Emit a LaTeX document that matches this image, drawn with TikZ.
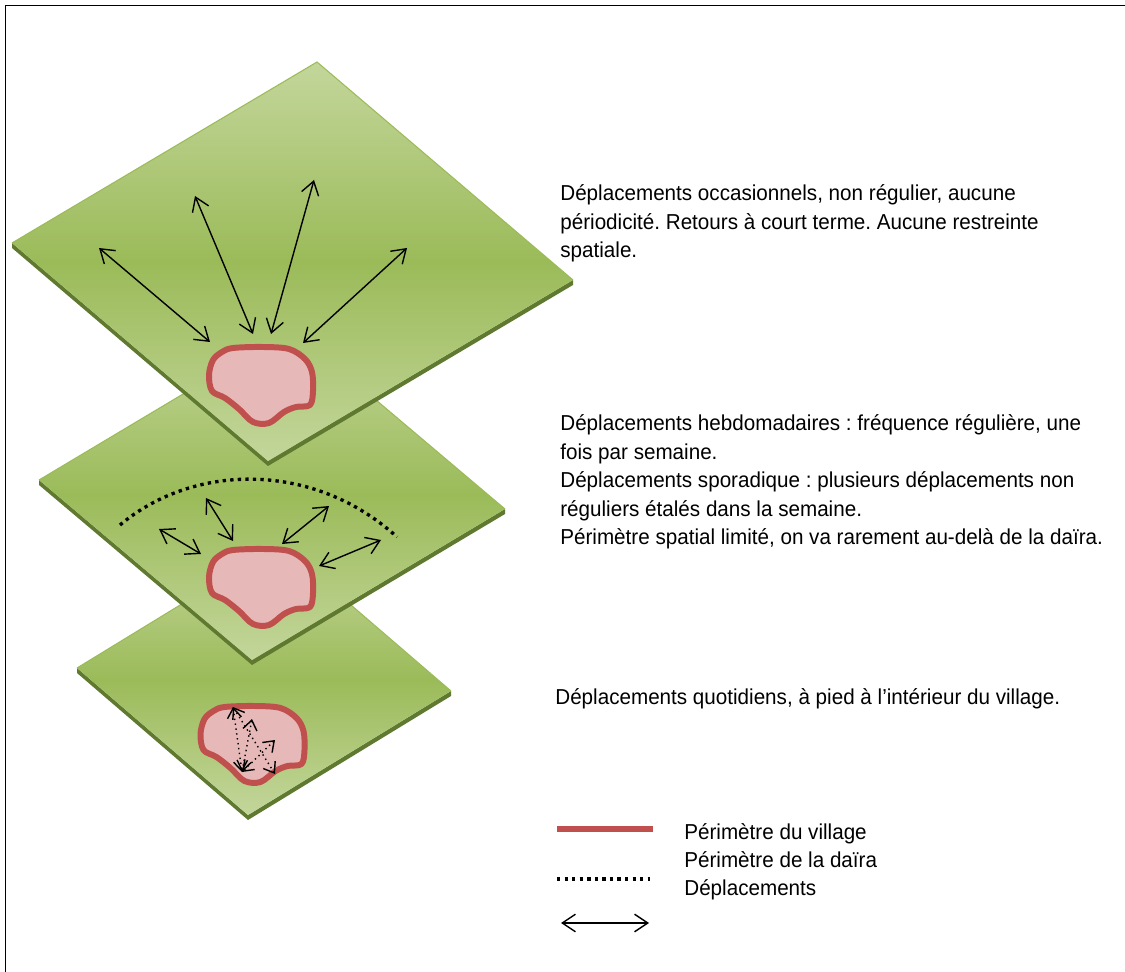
\documentclass[tikz,border=0pt]{standalone}
\usepackage{fontspec}
\setmainfont{Liberation Sans}[FakeStretch=0.955]
\usetikzlibrary{arrows.meta,calc}
\definecolor{Gc}{HTML}{9BBB59}
\definecolor{Gl}{HTML}{C3D69B}
\definecolor{Gd}{HTML}{5F7A30}
\definecolor{Vc}{HTML}{C0504D}
\definecolor{Vf}{HTML}{E6B9B8}
\tikzset{
  village/.style={draw=Vc, line width=3.4pt, fill=Vf, line join=round},
  daira/.style={line width=1.9pt, dash pattern=on 1.9pt off 2.4pt},
  depl/.style={{Straight Barb[length=7.5pt,width=10pt]}-{Straight Barb[length=7.5pt,width=10pt]}, line width=0.8pt},
  deplq/.style={{Straight Barb[length=5.5pt,width=8pt]}-{Straight Barb[length=5.5pt,width=8pt]}, dotted, line width=0.8pt},
  txt/.style={anchor=base west, inner sep=0pt, align=left, font=\fontsize{12.3}{16.2}\selectfont},
}
\newcommand{\dalle}[4]{% name, left, bottom, right (pixels)
  \coordinate (#1L) at #2; \coordinate (#1B) at #3; \coordinate (#1R) at #4;
  \coordinate (#1T) at ($(#1L)+(#1R)-(#1B)$);
  \fill[Gd] (#1L) -- (#1B) -- (#1R) -- ++(0,5) -- ($(#1B)+(0,5)$) -- ($(#1L)+(0,5)$) -- cycle;
  \shade[top color=Gl, bottom color=Gl, middle color=Gc] (#1L) -- (#1T) -- (#1R) -- (#1B) -- cycle;
  \draw[Gc, line width=0.6pt] (#1L) -- (#1T) -- (#1R);}
\newcommand{\village}[1]{% centre
  \draw[village, shift={#1}] plot[smooth cycle, tension=0.55] coordinates {
    (-28,-37) (2,-38) (28,-36) (44,-26) (51,-13) (52,6) (49,20) (35,22) (23,27)
    (8,38) (-8,37) (-22,24) (-36,13) (-49,6) (-52,-10) (-48,-25) (-39,-33)};}
\frenchspacing

\begin{document}
\begin{tikzpicture}[x=0.02cm, y=-0.02cm]
  \useasboundingbox (0,0) rectangle (1125,972);
  \draw[line width=1.1pt] (5.5,1000) -- (5.5,5.5) -- (1140,5.5);
  % quotidien
  \dalle{q}{(77,668)}{(248,815)}{(451,691)}
  \village{(252.5,744)}
  \coordinate (q1) at (233,707); \coordinate (q2) at (252,719); \coordinate (q3) at (275,740);
  \coordinate (q4) at (242,772); \coordinate (q5) at (275,774);
  \draw[deplq] (q1) -- (q5);
  \draw[deplq] (q1) -- (q4);
  \draw[deplq] (q2) -- (q4);
  \draw[deplq] (q3) -- (q4);
  % hebdomadaire
  \dalle{h}{(39,480)}{(252,660)}{(505,509)}
  \village{(261,587)}
  \coordinate (d1) at (120,525); \coordinate (d2) at (397,537);
  \draw[daira] (d1) .. controls (195,462) and (315,462) .. (d2);
  \coordinate (h1a) at (159,529); \coordinate (h1b) at (201,554);
  \coordinate (h2a) at (206,498); \coordinate (h2b) at (233,541);
  \coordinate (h3a) at (329,506); \coordinate (h3b) at (282,544);
  \coordinate (h4a) at (381,540); \coordinate (h4b) at (319,566);
  \foreach \i in {1,...,4} \draw[depl] (h\i a) -- (h\i b);
  % occasionnel
  \dalle{o}{(12,243)}{(268,461)}{(573,280)}
  \village{(261,385)}
  \coordinate (o1a) at (99,248); \coordinate (o1b) at (210,342);
  \coordinate (o2a) at (195,196); \coordinate (o2b) at (253,334);
  \coordinate (o3a) at (314,180); \coordinate (o3b) at (271,334);
  \coordinate (o4a) at (407,248); \coordinate (o4b) at (303,343);
  \foreach \i in {1,...,4} \draw[depl] (o\i a) -- (o\i b);
  % textes
  \node[txt] (t1) at (560,257.5) {Déplacements occasionnels, non régulier, aucune\\périodicité. Retours à court terme. Aucune restreinte\\spatiale.};
  \node[txt] (t2) at (560,544.5) {Déplacements hebdomadaires : fréquence régulière, une\\fois par semaine.\\Déplacements sporadique : plusieurs déplacements non\\réguliers étalés dans la semaine.\\Périmètre spatial limité, on va rarement au-delà de la daïra.};
  \node[txt] (t3) at (555,704) {Déplacements quotidiens, à pied à l’intérieur du village.};
  % legende
  \coordinate (l1a) at (557,829); \coordinate (l1b) at (653,829);
  \coordinate (l2a) at (557,879); \coordinate (l2b) at (650,879);
  \coordinate (l3a) at (561,923); \coordinate (l3b) at (649,923);
  \draw[Vc, line width=2.9pt] (l1a) -- (l1b);
  \draw[daira] (l2a) -- (l2b);
  \draw[depl] (l3a) -- (l3b);
  \node[txt] (g1) at (684,839) {Périmètre du village};
  \node[txt] (g2) at (684,867) {Périmètre de la daïra};
  \node[txt] (g3) at (684,895) {Déplacements};
\end{tikzpicture}
\end{document}
